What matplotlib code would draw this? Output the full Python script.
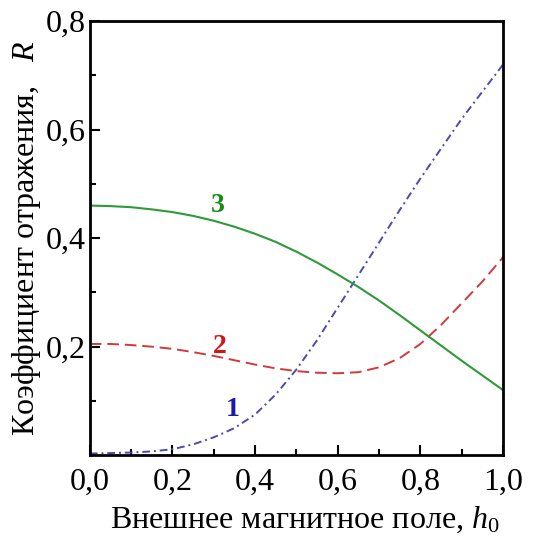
import matplotlib
matplotlib.use('Agg')
import matplotlib.pyplot as plt
from matplotlib.ticker import MultipleLocator, FixedLocator

plt.rcParams['font.family'] = 'Liberation Serif'
plt.rcParams['mathtext.fontset'] = 'custom'
plt.rcParams['mathtext.rm'] = 'Liberation Serif'
plt.rcParams['mathtext.it'] = 'Liberation Serif:italic'

# values
h0 = [0.0, 0.05, 0.1, 0.15, 0.2, 0.25, 0.3, 0.35, 0.4, 0.45, 0.5,
      0.55, 0.6, 0.65, 0.7, 0.75, 0.8, 0.85, 0.9, 0.95, 1.0]
r1 = [0.003, 0.004, 0.005, 0.007, 0.011, 0.02, 0.033, 0.05, 0.075, 0.112, 0.158,
      0.212, 0.272, 0.332, 0.392, 0.452, 0.51, 0.565, 0.62, 0.67, 0.72]
r2 = [0.205, 0.205, 0.203, 0.2, 0.196, 0.19, 0.183, 0.175, 0.167, 0.16, 0.155,
      0.152, 0.151, 0.153, 0.162, 0.179, 0.205, 0.24, 0.28, 0.32, 0.365]
r3 = [0.46, 0.459, 0.457, 0.453, 0.448, 0.441, 0.432, 0.421, 0.408, 0.393, 0.375,
      0.355, 0.333, 0.31, 0.285, 0.258, 0.23, 0.202, 0.174, 0.147, 0.12]

xticks = [0.0, 0.2, 0.4, 0.6, 0.8, 1.0]
xtick_labels = ['0,0', '0,2', '0,4', '0,6', '0,8', '1,0']
yticks = [0.2, 0.4, 0.6, 0.8]
ytick_labels = ['0,2', '0,4', '0,6', '0,8']

fig = plt.figure(figsize=(5.51, 5.40), dpi=100)
ax = fig.add_axes([0.163, 0.157, 0.750, 0.804])

ax.plot(h0, r1, color='#4a4ab0', lw=1.4, linestyle=(0, (4, 2, 1, 2)))
ax.plot(h0, r2, color='#d23a3a', lw=1.4, linestyle=(0, (6, 3)))
ax.plot(h0, r3, color='#2e9a3a', lw=1.5)

ax.text(0.345, 0.085, '1', color='#1a1aa8', fontsize=20, fontweight='bold', ha='center', va='center')
ax.text(0.315, 0.2, '2', color='#cc1818', fontsize=20, fontweight='bold', ha='center', va='center')
ax.text(0.31, 0.46, '3', color='#1a8a1a', fontsize=20, fontweight='bold', ha='center', va='center')

ax.set_xlim(0, 1.0)
ax.set_ylim(0, 0.8)
ax.set_xticks(xticks)
ax.set_xticklabels(xtick_labels)
ax.set_yticks(yticks)
ax.set_yticklabels(ytick_labels)
ax.xaxis.set_minor_locator(MultipleLocator(0.1))
ax.yaxis.set_minor_locator(FixedLocator([0.1, 0.3, 0.5, 0.7]))
ax.tick_params(which='both', direction='in', labelsize=23, width=1.5)
ax.tick_params(which='major', length=7)
ax.tick_params(which='minor', length=4)
ax.tick_params(axis='x', pad=9)
ax.tick_params(axis='y', pad=3)
for s in ax.spines.values():
    s.set_linewidth(2)

ax.set_xlabel('Внешнее магнитное поле, $h_0$', fontsize=23, labelpad=6)
ax.xaxis.label.set_x(0.52)
ax.set_ylabel('Коэффициент отражения,   $R$', fontsize=23, labelpad=2)

fig.savefig('out.png', dpi=100)
